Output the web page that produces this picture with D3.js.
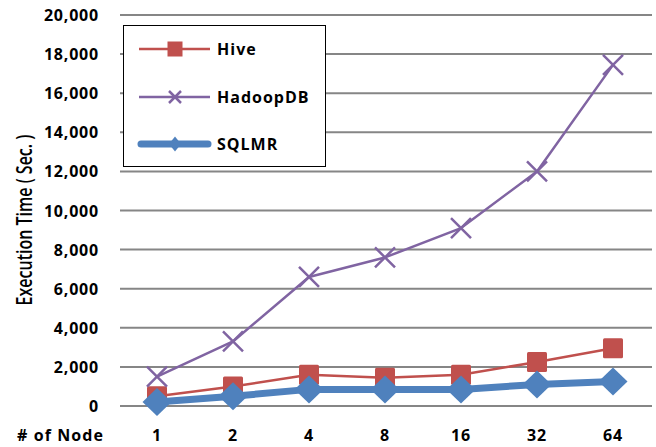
<!DOCTYPE html>
<html>
<head>
    <script src="https://cdnjs.cloudflare.com/ajax/libs/d3/7.8.5/d3.min.js"></script>
    <style>
        body { margin: 0; background: #fff; }
        svg text { font-family: "Open Sans", Arial, sans-serif; font-weight: bold; fill: #000; }
    </style>
</head>
<body>
    <svg id="chart" width="656" height="447"></svg>
    <script>
        // chart data
        const nodes = ["1", "2", "4", "8", "16", "32", "64"];
        const hive = [500, 1000, 1600, 1450, 1600, 2250, 2950];
        const hadoopdb = [1500, 3300, 6600, 7600, 9100, 12000, 17450];
        const sqlmr = [200, 500, 850, 850, 850, 1100, 1250];
        const yTicks = [0, 2000, 4000, 6000, 8000, 10000, 12000, 14000, 16000, 18000, 20000];

        const series = [
            { name: "Hive", values: hive, color: "#C0504D", width: 2.5, marker: "square" },
            { name: "HadoopDB", values: hadoopdb, color: "#8064A2", width: 2.5, marker: "cross" },
            { name: "SQLMR", values: sqlmr, color: "#4F81BD", width: 7, marker: "diamond" }
        ];

        const svg = d3.select("#chart");
        const plotLeft = 119, plotRight = 651, plotTop = 15, plotBottom = 406;

        const x = d3.scalePoint().domain(nodes).range([plotLeft, plotRight]).padding(0.5);
        const y = d3.scaleLinear().domain([0, 20000]).range([plotBottom, plotTop]);

        // gridlines
        svg.append("g")
            .selectAll("line")
            .data(yTicks)
            .enter().append("line")
            .attr("x1", plotLeft + 1)
            .attr("x2", plotRight + 1)
            .attr("y1", d => y(d))
            .attr("y2", d => y(d))
            .attr("stroke", "#868686")
            .attr("stroke-width", 2);

        // y tick labels
        svg.append("g")
            .selectAll("text")
            .data(yTicks)
            .enter().append("text")
            .attr("x", 99)
            .attr("y", d => y(d) + 6)
            .attr("text-anchor", "end")
            .attr("font-size", 16)
            .attr("letter-spacing", 0.8)
            .text(d => d3.format(",")(d));

        // x tick labels
        svg.append("g")
            .selectAll("text")
            .data(nodes)
            .enter().append("text")
            .attr("x", d => x(d))
            .attr("y", 441)
            .attr("text-anchor", "middle")
            .attr("font-size", 16)
            .attr("letter-spacing", 0.8)
            .text(d => d);

        svg.append("text")
            .attr("x", 17)
            .attr("y", 441)
            .attr("font-size", 16)
            .attr("letter-spacing", 1.1)
            .text("# of Node");

        // y title, widened like the stretched original
        svg.append("text")
            .attr("transform", "translate(32,220) rotate(-90) scale(1,1.4)")
            .attr("text-anchor", "middle")
            .attr("font-size", 16)
            .attr("font-weight", "normal")
            .style("font-weight", "600")
            .text("Execution Time ( Sec. )");

        function drawMarker(g, type, color) {
            if (type === "square") {
                g.append("rect")
                    .attr("x", -10).attr("y", -10)
                    .attr("width", 20).attr("height", 20)
                    .attr("rx", 1.5)
                    .attr("fill", color);
            } else if (type === "cross") {
                g.append("path")
                    .attr("d", "M-10,-10L10,10M-10,10L10,-10")
                    .attr("stroke", color)
                    .attr("stroke-width", 2.5)
                    .attr("fill", "none");
            } else {
                g.append("path")
                    .attr("d", "M0,-14L14.5,0L0,14L-14.5,0Z")
                    .attr("fill", color);
            }
        }

        const line = d3.line()
            .x((d, i) => x(nodes[i]))
            .y(d => y(d));

        series.forEach(s => {
            svg.append("path")
                .datum(s.values)
                .attr("d", line)
                .attr("fill", "none")
                .attr("stroke", s.color)
                .attr("stroke-width", s.width)
                .attr("stroke-linejoin", "round");

            s.values.forEach((v, i) => {
                const g = svg.append("g")
                    .attr("transform", `translate(${x(nodes[i])},${y(v)})`);
                drawMarker(g, s.marker, s.color);
            });
        });

        // legend
        const legend = svg.append("g");
        legend.append("rect")
            .attr("x", 123.5).attr("y", 25.5)
            .attr("width", 202).attr("height", 141)
            .attr("fill", "#fff")
            .attr("stroke", "#000")
            .attr("stroke-width", 1);

        const legendY = [49, 97, 144];
        series.forEach((s, i) => {
            const g = legend.append("g").attr("transform", `translate(0,${legendY[i]})`);
            g.append("line")
                .attr("x1", s.marker === "diamond" ? 141 : 139)
                .attr("x2", s.marker === "diamond" ? 208 : 210)
                .attr("y1", 0).attr("y2", 0)
                .attr("stroke", s.color)
                .attr("stroke-width", s.width)
                .attr("stroke-linecap", s.marker === "diamond" ? "round" : "butt");
            const m = g.append("g").attr("transform", "translate(175,0)");
            if (s.marker === "square") {
                m.append("rect").attr("x", -7.5).attr("y", -7.5).attr("width", 15).attr("height", 15).attr("fill", s.color);
            } else if (s.marker === "cross") {
                m.append("path").attr("d", "M-6,-6L6,6M-6,6L6,-6").attr("stroke", s.color).attr("stroke-width", 2.5);
            } else {
                m.append("path").attr("d", "M0,-7.5L6,0L0,7.5L-6,0Z").attr("fill", s.color);
            }
            g.append("text")
                .attr("x", 217)
                .attr("y", 6)
                .attr("font-size", 16)
                .attr("letter-spacing", 1)
                .text(s.name);
        });
    </script>
</body>
</html>
